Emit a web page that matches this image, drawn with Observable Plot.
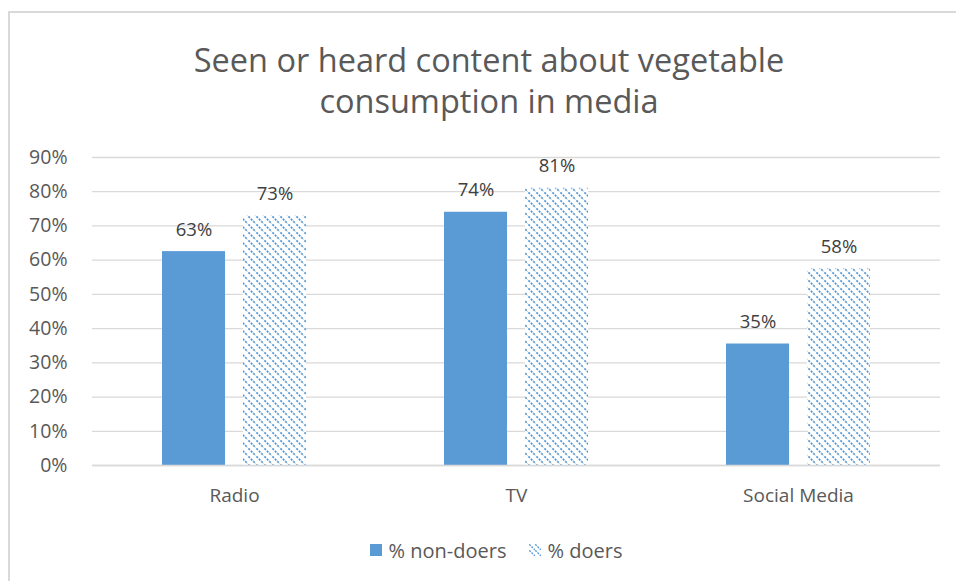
<!DOCTYPE html>
<html>
<head>
<meta charset="utf-8">
<script src="https://cdn.jsdelivr.net/npm/d3@7"></script>
<script src="https://cdn.jsdelivr.net/npm/@observablehq/plot@0.6"></script>
<style>
  html, body { margin: 0; padding: 0; background: #fff; overflow: hidden; }
  #wrap { position: relative; width: 956px; height: 581px; overflow: hidden; font-family: "Open Sans", "Noto Sans", sans-serif; color: #595959; }
  #border { position: absolute; left: 8px; top: 11px; width: 1000px; height: 700px; border: 2px solid #D9D9D9; box-sizing: border-box; }
  #title { position: absolute; left: 0; width: 978px; top: 39px; text-align: center; font-size: 32.5px; line-height: 41px; color: #595959; }
  #chart { position: absolute; left: 0; top: 0; }
  #legend { position: absolute; top: 535px; left: 0; width: 992px; text-align: center; font-size: 20px; color: #595959; }
  #legend span.item { display: inline-flex; align-items: center; margin: 0 11px; }
  #legend svg { margin-right: 7px; }
</style>
</head>
<body>
<div id="wrap">
  <div id="border"></div>
  <div id="chart"></div>
  <div id="title">Seen or heard content about vegetable<br>consumption in media</div>
  <div id="legend"></div>
</div>
<script>
const categories = ["Radio", "TV", "Social Media"];
const series = ["% non-doers", "% doers"];
const nonDoers = [0.625, 0.74, 0.355];
const doers = [0.73, 0.81, 0.575];
const nonDoersLabels = ["63%", "74%", "35%"];
const doersLabels = ["73%", "81%", "58%"];
const yTicks = [0, 0.1, 0.2, 0.3, 0.4, 0.5, 0.6, 0.7, 0.8, 0.9];

const blue = "#5B9BD5";
const data = categories.flatMap((c, i) => [
  {category: c, series: series[0], value: nonDoers[i], label: nonDoersLabels[i]},
  {category: c, series: series[1], value: doers[i], label: doersLabels[i]}
]);
const nd = data.filter(d => d.series === series[0]);
const dd = data.filter(d => d.series === series[1]);

const chart = Plot.plot({
  width: 956,
  height: 581,
  marginLeft: 92,
  marginRight: 16,
  marginTop: 157,
  marginBottom: 116,
  style: {fontFamily: '"Open Sans", "Noto Sans", sans-serif', fontSize: "18px", color: "#595959", background: "transparent", overflow: "visible"},
  x: {domain: categories, paddingInner: 0.488, paddingOuter: 0.244},
  y: {domain: [0, 0.9]},
  marks: [
    Plot.gridY(yTicks, {stroke: "#D9D9D9", strokeOpacity: 1, strokeWidth: 1.3}),
    Plot.axisY(yTicks, {tickFormat: d3.format(".0%"), label: null, tickSize: 0, tickPadding: 25, fontSize: 19.5, fill: "#595959"}),
    Plot.axisX({label: null, tickSize: 0, tickPadding: 23, fontSize: 19, fill: "#595959"}),
    Plot.barY(nd, {x: "category", y: "value", fill: blue, insetRight: 81}),
    Plot.barY(dd, {x: "category", y: "value", fill: "url(#hatch)", insetLeft: 81}),
    Plot.ruleY([0], {stroke: "#D9D9D9", strokeWidth: 1.5}),
    Plot.text(nd, {x: "category", y: "value", text: "label", dx: -40.5, dy: -22, fill: "#404040", fontSize: 18.5}),
    Plot.text(dd, {x: "category", y: "value", text: "label", dx: 40.5, dy: -22, fill: "#404040", fontSize: 18.5})
  ]
});

// hatch pattern definition
const ns = "http://www.w3.org/2000/svg";
const defs = document.createElementNS(ns, "defs");
defs.innerHTML = `
  <pattern id="hatch" patternUnits="userSpaceOnUse" width="8" height="8">
    <rect width="8" height="8" fill="#fff"/>
    <path d="M-2,-2 L10,10 M-2,6 L2,10 M6,-2 L10,2" stroke="${blue}" stroke-width="1.7" stroke-dasharray="2.2 1.2"/>
  </pattern>`;
chart.insertBefore(defs, chart.firstChild);
document.getElementById("chart").appendChild(chart);

// legend
const legend = document.getElementById("legend");
series.forEach((s, i) => {
  const item = document.createElement("span");
  item.className = "item";
  const sw = i === 0
    ? `<svg width="12" height="12"><rect width="12" height="12" fill="${blue}"/></svg>`
    : `<svg width="12" height="12"><defs><pattern id="hatchL" patternUnits="userSpaceOnUse" width="6" height="6"><path d="M-2,-2 L8,8 M-2,4 L2,8 M4,-2 L8,2" stroke="${blue}" stroke-width="1.4" stroke-dasharray="2 1.2"/></pattern></defs><rect width="12" height="12" fill="url(#hatchL)"/></svg>`;
  item.innerHTML = sw + `<span>${s}</span>`;
  legend.appendChild(item);
});
</script>
</body>
</html>
